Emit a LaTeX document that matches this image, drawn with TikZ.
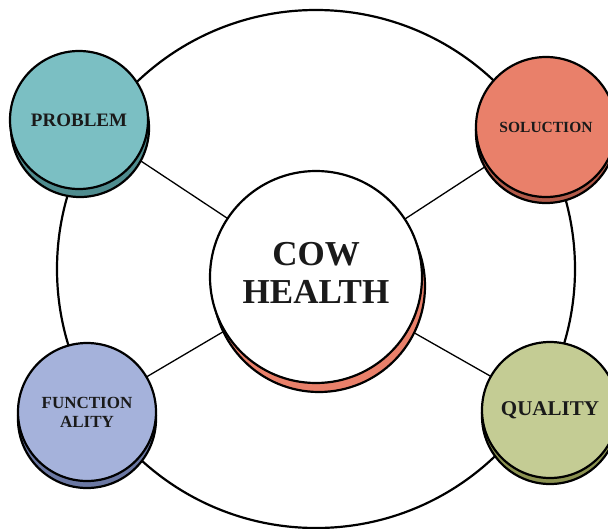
\documentclass[tikz,border=0pt]{standalone}
\usepackage{fontspec}
\setmainfont{Liberation Serif}
\definecolor{teal1}{HTML}{7BBFC3}
\definecolor{teal2}{HTML}{4F8C8F}
\definecolor{salm1}{HTML}{E9806A}
\definecolor{salm2}{HTML}{B25B4A}
\definecolor{lav1}{HTML}{A5B2DB}
\definecolor{lav2}{HTML}{6B78A3}
\definecolor{oli1}{HTML}{C4CC94}
\definecolor{oli2}{HTML}{8C9352}
\definecolor{txt}{HTML}{1A1A1A}
\tikzset{
  ring/.style={circle,draw=black,line width=2.2pt,inner sep=0pt,minimum size=518pt},
  link/.style={draw=black,line width=1.3pt},
  disc/.style={circle,draw=black,line width=2.2pt,inner sep=0pt,minimum size=#1,
    font=\bfseries,text=txt,align=center},
  disc/.default=138pt
}
\begin{document}
\begin{tikzpicture}[x=1pt,y=-1pt]
\useasboundingbox (0,0) rectangle (608,528);
\fill[white] (0,0) rectangle (608,528);
% centres
\coordinate (cC) at (316,277);
\coordinate (cP) at (79,120);
\coordinate (cS) at (546,127);
\coordinate (cF) at (87,412);
\coordinate (cQ) at (550,410);
% outer ring
\node[ring] (ring) at (316,269) {};
% connectors
\draw[link] (cC) -- (cP);
\draw[link] (cC) -- (cS);
\draw[link] (cC) -- (cF);
\draw[link] (cC) -- (cQ);
% shadows
\node[disc=212pt,fill=salm1] (shC) at ([shift={(3,9)}]cC) {};
\node[disc,fill=teal2] (shP) at ([shift={(1,8)}]cP) {};
\node[disc=140pt,fill=salm2] (shS) at ([shift={(0,6)}]cS) {};
\node[disc,fill=lav2] (shF) at ([shift={(0,7)}]cF) {};
\node[disc=136pt,fill=oli2] (shQ) at ([shift={(0,6)}]cQ) {};
% discs
\node[disc=212pt,fill=white] (C) at (cC) {};
\node[font=\bfseries\fontsize{35}{38}\selectfont,text=txt,align=center] (Ct) at ([shift={(0,-4)}]cC) {COW\\HEALTH};
\node[disc,fill=teal1,font=\bfseries\fontsize{19}{22}\selectfont] (P) at (cP) {PROBLEM};
\node[disc=140pt,fill=salm1,font=\bfseries\fontsize{15.5}{18}\selectfont] (S) at (cS) {SOLUCTION};
\node[disc,fill=lav1,font=\bfseries\fontsize{17}{19}\selectfont] (F) at (cF) {FUNCTION\\ALITY};
\node[disc=136pt,fill=oli1,font=\bfseries\fontsize{21}{24}\selectfont] (Q) at (cQ) {QUALITY};
\end{tikzpicture}
\end{document}
